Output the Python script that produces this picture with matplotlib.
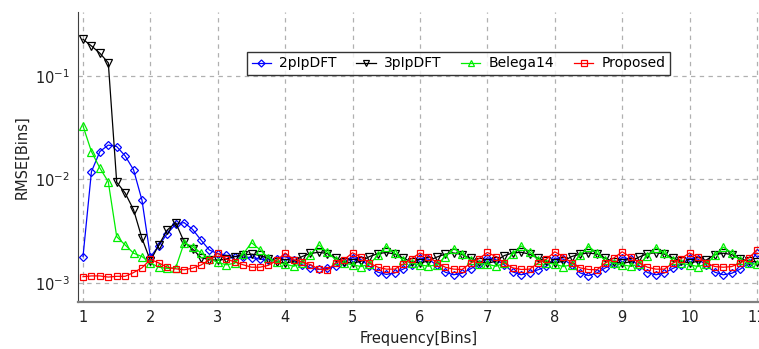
import matplotlib
matplotlib.use("Agg")
import matplotlib.pyplot as plt
import numpy as np
from matplotlib.ticker import LogLocator, NullLocator

# frequency grid: 1 to 11 bins, step 1/8 bin
freq = np.arange(1.0, 11.001, 0.125)

# RMSE values in units of 1e-3 bins
rmse_2p = [
    1.80, 11.9, 18.6, 21.5, 20.8, 16.9, 12.4, 6.3,
    1.78, 2.30, 3.00, 3.70, 3.83, 3.30, 2.60, 2.08,
    1.92, 1.85, 1.80, 1.78, 1.76, 1.70, 1.67, 1.72,
    1.80, 1.65, 1.50, 1.40, 1.35, 1.38, 1.45, 1.58,
    1.76, 1.68, 1.45, 1.27, 1.21, 1.25, 1.36, 1.50,
    1.74, 1.70, 1.48, 1.27, 1.20, 1.24, 1.37, 1.52,
    1.75, 1.68, 1.50, 1.28, 1.20, 1.26, 1.34, 1.45,
    1.74, 1.70, 1.49, 1.25, 1.18, 1.25, 1.40, 1.52,
    1.76, 1.69, 1.47, 1.26, 1.20, 1.25, 1.38, 1.50,
    1.74, 1.70, 1.48, 1.27, 1.20, 1.24, 1.36, 1.55,
    1.95,
]
rmse_3p = [
    226.0, 195.0, 166.0, 134.0, 9.4, 7.4, 5.1, 2.7,
    1.64, 2.33, 3.25, 3.83, 2.50, 2.13, 1.76, 1.68,
    1.66, 1.70, 1.80, 1.86, 1.90, 1.85, 1.72, 1.60,
    1.55, 1.62, 1.80, 1.93, 1.98, 1.92, 1.75, 1.60,
    1.55, 1.62, 1.80, 1.92, 1.97, 1.90, 1.74, 1.60,
    1.56, 1.63, 1.78, 1.90, 1.95, 1.88, 1.73, 1.60,
    1.55, 1.62, 1.84, 1.95, 1.98, 1.90, 1.74, 1.62,
    1.56, 1.62, 1.80, 1.90, 1.95, 1.90, 1.74, 1.60,
    1.55, 1.60, 1.78, 1.92, 1.96, 1.90, 1.75, 1.62,
    1.56, 1.62, 1.67, 1.88, 1.94, 1.88, 1.72, 1.62,
    1.60,
]
rmse_belega = [
    32.9, 18.6, 12.9, 9.5, 2.80, 2.33, 1.94, 1.80,
    1.56, 1.42, 1.38, 1.40, 2.43, 2.25, 1.95, 1.72,
    1.58, 1.50, 1.55, 1.90, 2.45, 2.10, 1.75, 1.58,
    1.52, 1.45, 1.55, 1.88, 2.33, 1.98, 1.68, 1.55,
    1.50, 1.44, 1.52, 1.85, 2.25, 1.95, 1.66, 1.55,
    1.50, 1.45, 1.50, 1.80, 2.15, 1.92, 1.65, 1.54,
    1.52, 1.45, 1.55, 1.90, 2.28, 2.00, 1.68, 1.56,
    1.52, 1.44, 1.50, 1.85, 2.25, 1.95, 1.65, 1.55,
    1.50, 1.45, 1.52, 1.82, 2.20, 1.95, 1.66, 1.55,
    1.50, 1.44, 1.52, 1.85, 2.22, 1.96, 1.66, 1.55,
    1.52,
]
rmse_proposed = [
    1.15, 1.17, 1.17, 1.14, 1.16, 1.16, 1.26, 1.40,
    1.69, 1.56, 1.42, 1.37, 1.34, 1.39, 1.49, 1.67,
    1.94, 1.70, 1.60, 1.50, 1.42, 1.42, 1.48, 1.65,
    1.95, 1.68, 1.60, 1.50, 1.36, 1.34, 1.56, 1.68,
    1.96, 1.78, 1.56, 1.42, 1.36, 1.36, 1.52, 1.72,
    1.95, 1.80, 1.57, 1.42, 1.36, 1.35, 1.55, 1.72,
    1.97, 1.80, 1.56, 1.40, 1.35, 1.36, 1.55, 1.70,
    2.00, 1.80, 1.56, 1.40, 1.35, 1.34, 1.56, 1.74,
    2.00, 1.78, 1.57, 1.42, 1.36, 1.36, 1.55, 1.72,
    1.95, 1.78, 1.56, 1.44, 1.42, 1.44, 1.56, 1.74,
    2.08,
]

series = [
    ("2pIpDFT", rmse_2p, "#0000ff", "D", 4.2),
    ("3pIpDFT", rmse_3p, "#000000", "v", 5.5),
    ("Belega14", rmse_belega, "#00ee00", "^", 5.5),
    ("Proposed", rmse_proposed, "#ff0000", "s", 4.6),
]

fig = plt.figure(figsize=(7.59, 3.49), dpi=100)
ax = fig.add_axes([0.1028, 0.1347, 0.8972, 0.8309])

for name, vals, color, marker, ms in series:
    ax.plot(freq, np.array(vals) * 1e-3, color=color, lw=0.9,
            marker=marker, ms=ms, mfc="none", mec=color, mew=0.9,
            label=name)

ax.set_yscale("log")
ax.set_xlim(0.926, 11.03)
ax.set_ylim(6.55e-4, 0.415)
ax.set_xticks(range(1, 12))
ax.yaxis.set_major_locator(LogLocator(base=10, numticks=10))
ax.yaxis.set_minor_locator(NullLocator())

ax.grid(True, color="#b0b0b0", linestyle=(0, (3.5, 3.5)), lw=0.9)
ax.set_axisbelow(True)
for side in ("top", "right"):
    ax.spines[side].set_visible(False)
ax.spines["left"].set_color("#404040")
ax.spines["bottom"].set_color("#808080")
ax.spines["bottom"].set_linewidth(1.6)
ax.tick_params(length=0, labelsize=10.5, colors="#202020", pad=6)

ax.set_xlabel("Frequency[Bins]", fontsize=10.5, color="#202020")
ax.set_ylabel("RMSE[Bins]", fontsize=10.5, color="#202020")

leg = ax.legend(loc="upper left", bbox_to_anchor=(0.2385, 0.885), ncol=4,
                frameon=True, fancybox=False, fontsize=10, handlelength=1.4,
                columnspacing=1.4, handletextpad=0.6, borderpad=0.3,
                markerscale=0.85)
leg.get_frame().set_edgecolor("black")
leg.get_frame().set_linewidth(1.0)

fig.savefig("out.png", dpi=100)
